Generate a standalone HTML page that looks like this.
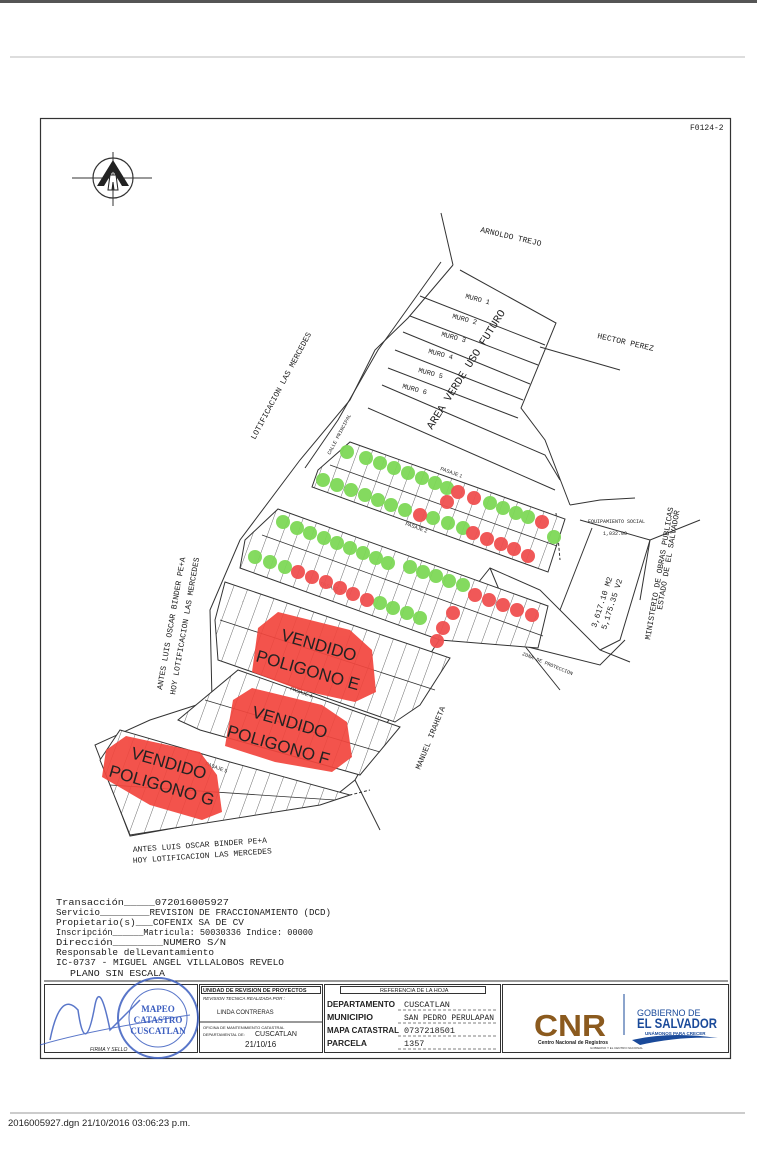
<!DOCTYPE html>
<html><head><meta charset="utf-8"><style>
html,body{margin:0;padding:0;background:#fff;}
body{width:757px;height:1170px;position:relative;overflow:hidden;font-family:"Liberation Sans",sans-serif;}
svg{position:absolute;left:0;top:0;}
.t{font-family:"Liberation Sans",sans-serif;fill:#222;}
.m{font-family:"Liberation Mono",monospace;fill:#222;}
</style></head><body>
<svg width="757" height="1170" viewBox="0 0 757 1170">
<defs>
<pattern id="lots" patternUnits="userSpaceOnUse" width="14" height="40" patternTransform="rotate(20)">
<rect width="14" height="40" fill="#fff"/>
<line x1="0" y1="0" x2="0" y2="40" stroke="#444" stroke-width="0.8"/>
</pattern>
</defs>
<rect x="0" y="0" width="757" height="3" fill="#555"/>
<line x1="10" y1="57" x2="745" y2="57" stroke="#bbb" stroke-width="1"/>
<rect x="40.5" y="118.5" width="690" height="940" fill="none" stroke="#333" stroke-width="1.2"/>
<text x="690" y="130" class="m" font-size="8">F0124-2</text>
<circle cx="113" cy="178" r="20" fill="none" stroke="#333" stroke-width="1.2"/>
<line x1="72" y1="178" x2="152" y2="178" stroke="#333"/>
<line x1="113" y1="152" x2="113" y2="206" stroke="#333"/>
<path d="M97 186 L113 160 L129 186 L122 186 L113 171 L104 186Z" fill="#222"/>
<path d="M108 190 L110 175 L116 175 L118 190 L114 190 L113 182 L112 190Z" fill="#fff" stroke="#222"/>

<g fill="none" stroke="#333" stroke-width="1">
<polyline points="441,213 453,265"/>
<polyline points="453,265 408,318 375,350 350,400 300,460 240,540 210,610 212,700 150,720 95,745 120,810 130,836 330,800 355,780 400,700 470,593 490,568 540,590 600,650 630,662"/>
<polyline points="441,262 378,350 338,420 305,468"/>
<polyline points="460,270 556,323 521,408 545,440 570,505"/>
<polyline points="540,347 620,370"/>
<line x1="556" y1="513" x2="560" y2="560" stroke-dasharray="3,2"/>
<polyline points="420,296 545,345"/>
<polyline points="410,316 538,365"/>
<polyline points="403,332 530,384"/>
<polyline points="395,350 523,400"/>
<polyline points="388,368 518,418"/>
<polyline points="382,385 545,455 560,480"/>
<polyline points="368,408 555,490"/>
<polyline points="570,505 600,500 635,498"/>
<polyline points="580,520 650,540 620,640 600,650"/>
<polyline points="592,528 560,610"/>
<polyline points="490,568 520,640 560,690"/>
<polyline points="520,645 600,665 625,640"/>
<polyline points="640,600 650,540 700,520"/>
<polyline points="355,780 380,830"/>
<polyline points="330,800 370,790" stroke-dasharray="3,2"/>
</g>

<g stroke="#333" stroke-width="1" fill="url(#lots)">
<polygon points="350,442 565,519 548,572 312,487 318,470"/>
<polygon points="278,509 548,606 538,648 440,640 240,568 245,540"/>
<polygon points="225,582 450,658 420,705 395,722 218,660 215,620"/>
<polygon points="238,670 400,727 360,775 200,730 178,720"/>
<polygon points="120,730 230,762 350,795 320,805 130,835 100,760"/>
</g>
<g stroke="#333" stroke-width="0.8" fill="none">
<line x1="330" y1="465" x2="557" y2="546"/>
<line x1="262" y1="535" x2="543" y2="636"/>
<line x1="220" y1="620" x2="435" y2="690"/>
<line x1="205" y1="700" x2="380" y2="752"/>
<line x1="110" y1="785" x2="335" y2="800"/>
</g>
<g class="t" font-size="5" fill="#333">
<text x="440" y="470" transform="rotate(20 440 470)">PASAJE 1</text>
<text x="405" y="525" transform="rotate(20 405 525)">PASAJE 2</text>
<text x="320" y="585" transform="rotate(20 320 585)">PASAJE 3</text>
<text x="290" y="690" transform="rotate(20 290 690)">PASAJE 4</text>
<text x="205" y="765" transform="rotate(20 205 765)">PASAJE 5</text>
</g>

<g fill="#7ed957" opacity="0.95">
<circle cx="347" cy="452" r="7"/><circle cx="366" cy="458" r="7"/><circle cx="380" cy="463" r="7"/><circle cx="394" cy="468" r="7"/><circle cx="408" cy="473" r="7"/><circle cx="422" cy="478" r="7"/><circle cx="435" cy="483" r="7"/><circle cx="447" cy="488" r="7"/>
<circle cx="490" cy="503" r="7"/><circle cx="503" cy="508" r="7"/><circle cx="516" cy="513" r="7"/><circle cx="528" cy="517" r="7"/><circle cx="554" cy="537" r="7"/>
<circle cx="323" cy="480" r="7"/><circle cx="337" cy="485" r="7"/><circle cx="351" cy="490" r="7"/><circle cx="365" cy="495" r="7"/><circle cx="378" cy="500" r="7"/><circle cx="391" cy="505" r="7"/><circle cx="405" cy="510" r="7"/>
<circle cx="433" cy="518" r="7"/><circle cx="448" cy="523" r="7"/><circle cx="463" cy="528" r="7"/>
<circle cx="283" cy="522" r="7"/><circle cx="297" cy="528" r="7"/><circle cx="310" cy="533" r="7"/><circle cx="324" cy="538" r="7"/><circle cx="337" cy="543" r="7"/><circle cx="350" cy="548" r="7"/><circle cx="363" cy="553" r="7"/><circle cx="376" cy="558" r="7"/><circle cx="388" cy="563" r="7"/>
<circle cx="410" cy="567" r="7"/><circle cx="423" cy="572" r="7"/><circle cx="436" cy="576" r="7"/><circle cx="449" cy="581" r="7"/><circle cx="463" cy="585" r="7"/>
<circle cx="255" cy="557" r="7"/><circle cx="270" cy="562" r="7"/><circle cx="285" cy="567" r="7"/>
<circle cx="380" cy="603" r="7"/><circle cx="393" cy="608" r="7"/><circle cx="407" cy="613" r="7"/><circle cx="420" cy="618" r="7"/>
</g>
<g fill="#f05050" opacity="0.95">
<circle cx="458" cy="492" r="7"/><circle cx="474" cy="498" r="7"/><circle cx="542" cy="522" r="7"/><circle cx="447" cy="502" r="7"/>
<circle cx="420" cy="515" r="7"/>
<circle cx="473" cy="533" r="7"/><circle cx="487" cy="539" r="7"/><circle cx="501" cy="544" r="7"/><circle cx="514" cy="549" r="7"/><circle cx="528" cy="556" r="7"/>
<circle cx="475" cy="595" r="7"/><circle cx="489" cy="600" r="7"/><circle cx="503" cy="605" r="7"/><circle cx="517" cy="610" r="7"/><circle cx="532" cy="615" r="7"/>
<circle cx="298" cy="572" r="7"/><circle cx="312" cy="577" r="7"/><circle cx="326" cy="582" r="7"/><circle cx="340" cy="588" r="7"/><circle cx="353" cy="594" r="7"/><circle cx="367" cy="600" r="7"/>
<circle cx="453" cy="613" r="7"/><circle cx="443" cy="628" r="7"/><circle cx="437" cy="641" r="7"/>
</g>

<g fill="#f2453d" opacity="0.92">
<path d="M258 628 L278 612 L350 630 L372 650 L376 692 L355 702 L300 690 L252 672 Z"/>
<path d="M233 700 L252 688 L322 705 L347 722 L352 757 L332 772 L275 762 L225 746 Z"/>
<path d="M106 750 L126 736 L200 752 L217 775 L222 812 L202 820 L150 805 L102 777 Z"/>
</g>
<g class="t" font-size="17" fill="#111">
<text x="280" y="640" transform="rotate(16 280 640)">VENDIDO</text>
<text x="255" y="661" transform="rotate(16 255 661)">POLIGONO E</text>
<text x="251" y="717" transform="rotate(16 251 717)">VENDIDO</text>
<text x="226" y="736" transform="rotate(16 226 736)">POLIGONO F</text>
<text x="130" y="758" transform="rotate(16 130 758)">VENDIDO</text>
<text x="108" y="776" transform="rotate(16 108 776)">POLIGONO G</text>
</g>

<g class="m" fill="#222">
<text x="480" y="232" font-size="8" transform="rotate(13 480 232)">ARNOLDO TREJO</text>
<text x="597" y="338" font-size="8" transform="rotate(13 597 338)">HECTOR PEREZ</text>
<text x="465" y="298" font-size="7" transform="rotate(15 465 298)">MURO 1</text>
<text x="452" y="318" font-size="7" transform="rotate(15 452 318)">MURO 2</text>
<text x="441" y="336" font-size="7" transform="rotate(15 441 336)">MURO 3</text>
<text x="428" y="353" font-size="7" transform="rotate(15 428 353)">MURO 4</text>
<text x="418" y="372" font-size="7" transform="rotate(15 418 372)">MURO 5</text>
<text x="402" y="388" font-size="7" transform="rotate(15 402 388)">MURO 6</text>
<text x="432" y="430" font-size="11" transform="rotate(-58 432 430)">AREA VERDE USO FUTURO</text>
<text x="255" y="440" font-size="8" transform="rotate(-62 255 440)">LOTIFICACION LAS MERCEDES</text>
<text x="330" y="455" font-size="5" transform="rotate(-62 330 455)">CALLE PRINCIPAL</text>
<text x="162" y="690" font-size="8" transform="rotate(-80 162 690)">ANTES LUIS OSCAR BINDER PE+A</text>
<text x="175" y="695" font-size="8" transform="rotate(-80 175 695)">HOY LOTIFICACION LAS MERCEDES</text>
<text x="133" y="852" font-size="8" transform="rotate(-4 133 852)">ANTES LUIS OSCAR BINDER PE+A</text>
<text x="133" y="863" font-size="8" transform="rotate(-4 133 863)">HOY LOTIFICACION LAS MERCEDES</text>
<text x="420" y="770" font-size="8" transform="rotate(-68 420 770)">MANUEL IRAHETA</text>
<text x="650" y="640" font-size="8" transform="rotate(-80 650 640)">MINISTERIO DE OBRAS PUBLICAS</text>
<text x="662" y="610" font-size="8" transform="rotate(-80 662 610)">ESTADO DE EL SALVADOR</text>
<text x="596" y="628" font-size="8" transform="rotate(-72 596 628)">3,617.10 M2</text>
<text x="606" y="630" font-size="8" transform="rotate(-72 606 630)">5,175.35 V2</text>
<text x="522" y="655" font-size="5" transform="rotate(22 522 655)">ZONA DE PROTECCION</text>
<text x="588" y="523" font-size="5">EQUIPAMIENTO SOCIAL</text>
<text x="603" y="535" font-size="5">1,032.00</text>
</g>

<g class="m" font-size="9.5" fill="#222" lengthAdjust="spacingAndGlyphs">
<text x="56" y="905" textLength="173" lengthAdjust="spacingAndGlyphs">Transacción_____072016005927</text>
<text x="56" y="915" textLength="275" lengthAdjust="spacingAndGlyphs">Servicio_________REVISION DE FRACCIONAMIENTO (DCD)</text>
<text x="56" y="925" textLength="188" lengthAdjust="spacingAndGlyphs">Propietario(s)___COFENIX SA DE CV</text>
<text x="56" y="935" textLength="257" lengthAdjust="spacingAndGlyphs">Inscripción______Matricula: 50030336 Indice: 00000</text>
<text x="56" y="945" textLength="170" lengthAdjust="spacingAndGlyphs">Dirección________NUMERO S/N</text>
<text x="56" y="955" textLength="158" lengthAdjust="spacingAndGlyphs">Responsable delLevantamiento</text>
<text x="56" y="965" textLength="228" lengthAdjust="spacingAndGlyphs">IC-0737 - MIGUEL ANGEL VILLALOBOS REVELO</text>
<text x="70" y="976" textLength="95" lengthAdjust="spacingAndGlyphs">PLANO SIN ESCALA</text>
</g>
<line x1="44" y1="981" x2="728" y2="981" stroke="#333" stroke-width="1"/>
<g fill="none" stroke="#333" stroke-width="1">
<rect x="44.5" y="984.5" width="153" height="68"/>
<rect x="199.5" y="984.5" width="123" height="68"/>
<rect x="324.5" y="984.5" width="176" height="68"/>
<rect x="502.5" y="984.5" width="226" height="68"/>
<line x1="199" y1="1022" x2="322" y2="1022"/>
<rect x="201.5" y="986.5" width="119" height="7"/>
<rect x="340.5" y="986.5" width="145" height="7"/>
<line x1="624" y1="994" x2="624" y2="1035" stroke="#1a4a9a"/>
</g>
<g class="t" font-size="5.5" fill="#222">
<text x="203" y="992" font-weight="bold">UNIDAD DE REVISION DE PROYECTOS</text>
<text x="203" y="1000" font-style="italic" font-size="4.5">REVISION TECNICA REALIZADA POR :</text>
<text x="217" y="1014" font-size="6">LINDA CONTRERAS</text>
<text x="203" y="1029" font-size="4">OFICINA DE MANTENIMIENTO CATASTRAL</text>
<text x="203" y="1036" font-size="4">DEPARTAMENTAL DE:</text>
<text x="255" y="1036" font-size="7">CUSCATLAN</text>
<text x="245" y="1047" font-size="8">21/10/16</text>
<text x="380" y="992" font-size="5.5">REFERENCIA DE LA HOJA</text>
</g>
<g font-size="8.5" fill="#222">
<text x="327" y="1007" class="t" font-weight="bold" font-size="8" textLength="68" lengthAdjust="spacingAndGlyphs">DEPARTAMENTO</text>
<text x="327" y="1020" class="t" font-weight="bold" font-size="8" textLength="46" lengthAdjust="spacingAndGlyphs">MUNICIPIO</text>
<text x="327" y="1033" class="t" font-weight="bold" font-size="8" textLength="72" lengthAdjust="spacingAndGlyphs">MAPA CATASTRAL</text>
<text x="327" y="1046" class="t" font-weight="bold" font-size="8" textLength="40" lengthAdjust="spacingAndGlyphs">PARCELA</text>
<text x="404" y="1007" class="m">CUSCATLAN</text>
<text x="404" y="1020" class="m" textLength="90" lengthAdjust="spacingAndGlyphs">SAN PEDRO PERULAPAN</text>
<text x="404" y="1033" class="m">0737218501</text>
<text x="404" y="1046" class="m">1357</text>
</g>
<g stroke="#555" stroke-dasharray="3,2" stroke-width="0.7">
<line x1="398" y1="1010" x2="498" y2="1010"/><line x1="398" y1="1023" x2="498" y2="1023"/>
<line x1="398" y1="1036" x2="498" y2="1036"/><line x1="398" y1="1049" x2="498" y2="1049"/>
</g>
<text x="534" y="1036" font-family="Liberation Sans,sans-serif" font-weight="bold" font-size="31" fill="#8b5a1e" textLength="72" lengthAdjust="spacingAndGlyphs">CNR</text>
<text x="538" y="1044" font-family="Liberation Sans,sans-serif" font-size="5" fill="#222" font-weight="bold">Centro Nacional de Registros</text>
<text x="637" y="1016" font-family="Liberation Sans,sans-serif" font-size="9" fill="#1a4a9a">GOBIERNO DE</text>
<text x="637" y="1028" font-family="Liberation Sans,sans-serif" font-size="14" fill="#1a4a9a" font-weight="bold" textLength="80" lengthAdjust="spacingAndGlyphs">EL SALVADOR</text>
<text x="645" y="1035" font-family="Liberation Sans,sans-serif" font-size="4.5" fill="#1a4a9a" font-weight="bold">UNÁMONOS PARA CRECER</text>
<path d="M632 1040 Q670 1031 718 1038 Q680 1036 640 1045Z" fill="#1a4a9a"/>
<text x="590" y="1049" font-family="Liberation Sans,sans-serif" font-size="3" fill="#333">GOBIERNO Y EL CENTRO NACIONAL</text>
<g fill="none" stroke="#3d5fc0" stroke-width="2" opacity="0.85">
<circle cx="158" cy="1018" r="40"/>
<circle cx="158" cy="1018" r="29" stroke-width="1"/>
<path d="M50 1040 Q60 990 78 1010 Q85 1060 95 1005 Q100 980 110 1030 L140 1000" stroke-width="1.5"/>
<path d="M40 1045 Q90 1030 190 1015" stroke-width="1"/>
</g>
<g font-family="Liberation Serif,serif" font-weight="bold" fill="#3d5fc0" font-size="9" text-anchor="middle">
<text x="158" y="1012">MAPEO</text><text x="158" y="1023">CATASTRO</text><text x="158" y="1034">CUSCATLAN</text>
</g>
<text x="90" y="1051" class="t" font-size="5" font-style="italic">FIRMA Y SELLO</text>
<line x1="10" y1="1113" x2="745" y2="1113" stroke="#999"/>
<text x="8" y="1126" font-family="Liberation Sans,sans-serif" font-size="9.5" fill="#222">2016005927.dgn  21/10/2016 03:06:23 p.m.</text>
</svg>
</body></html>
